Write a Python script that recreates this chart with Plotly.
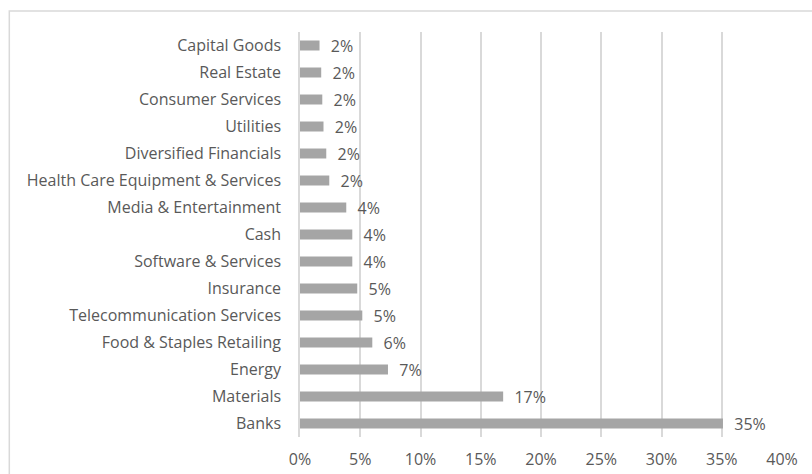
import plotly.graph_objects as go

categories = ["Capital Goods", "Real Estate", "Consumer Services", "Utilities",
              "Diversified Financials", "Health Care Equipment & Services",
              "Media & Entertainment", "Cash", "Software & Services", "Insurance",
              "Telecommunication Services", "Food & Staples Retailing", "Energy",
              "Materials", "Banks"]
values = [1.62, 1.76, 1.85, 1.95, 2.18, 2.43, 3.84, 4.34, 4.34, 4.75, 5.17, 6.0, 7.3, 16.86, 35.1]
labels = ["2%", "2%", "2%", "2%", "2%", "2%", "4%", "4%", "4%", "5%", "5%", "6%", "7%", "17%", "35%"]
x_ticks = [0, 5, 10, 15, 20, 25, 30, 35, 40]
x_tick_labels = ["0%", "5%", "10%", "15%", "20%", "25%", "30%", "35%", "40%"]

FONT = "Open Sans"
TXT = "#595959"
FS = 16

fig = go.Figure(go.Bar(
    y=categories, x=values, orientation="h",
    marker=dict(color="#A5A5A5", line=dict(width=0)),
    text=["\u00a0\u00a0" + t for t in labels], textposition="outside",
    constraintext="none",
    textfont=dict(family=FONT, size=FS, color=TXT),
    cliponaxis=False,
))

L, R, T, B = 299.5, 30, 31.5, 36.5
fig.update_layout(
    width=812, height=474,
    margin=dict(l=L, r=R, t=T, b=B, autoexpand=False),
    paper_bgcolor="white", plot_bgcolor="white",
    bargap=0.63, showlegend=False,
    font=dict(family=FONT, size=FS, color=TXT),
    shapes=[dict(type="rect", xref="paper", yref="paper",
                 x0=-(L - 8.5) / (812 - L - R), x1=1.3, y0=-0.3,
                 y1=(474 - 10.5 - B) / (474 - T - B),
                 line=dict(color="#D9D9D9", width=1.5), layer="below")],
)
fig.update_xaxes(range=[0, 40], tickvals=x_ticks, ticktext=x_tick_labels,
                 showgrid=True, gridcolor="#D9D9D9", gridwidth=1.5,
                 zeroline=False, showline=False, ticks="",
                 ticklabelstandoff=11,
                 tickfont=dict(family=FONT, size=FS, color=TXT))
fig.update_yaxes(autorange="reversed", showgrid=False, zeroline=False,
                 showline=True, linecolor="#D9D9D9", linewidth=1.5, ticks="",
                 ticklabelstandoff=14,
                 tickfont=dict(family=FONT, size=FS, color=TXT))

fig.write_html("out.html", config={"displayModeBar": False},
               post_script="document.body.style.margin='0';")
